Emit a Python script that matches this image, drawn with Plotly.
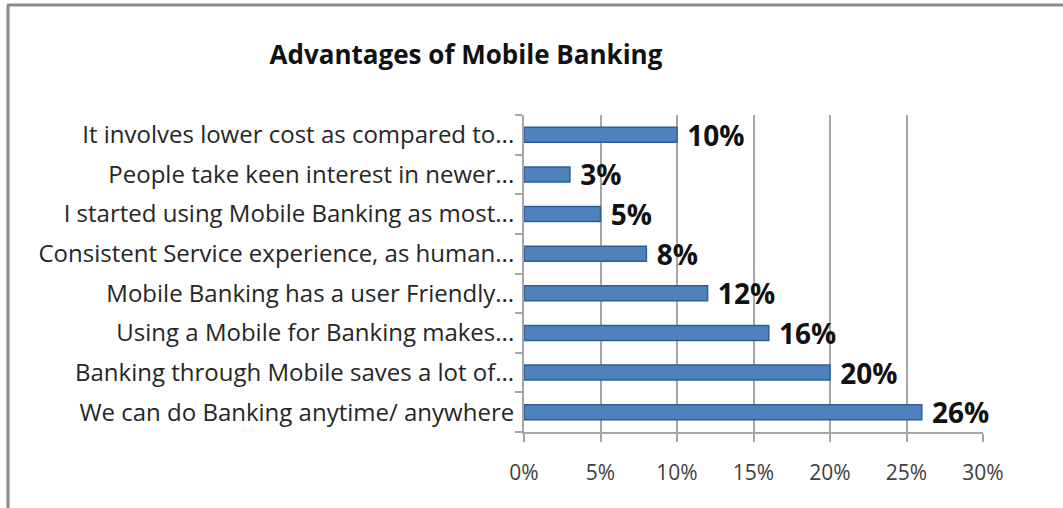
import plotly.graph_objects as go

categories = [
    "We can do Banking anytime/ anywhere",
    "Banking through Mobile saves a lot of...",
    "Using a Mobile for Banking makes...",
    "Mobile Banking has a user Friendly...",
    "Consistent Service experience, as human...",
    "I started using Mobile Banking as most...",
    "People take keen interest in newer...",
    "It involves lower cost as compared to...",
]
values = [26, 20, 16, 12, 8, 5, 3, 10]
tick_vals = [0, 5, 10, 15, 20, 25, 30]
tick_text = ["0%", "5%", "10%", "15%", "20%", "25%", "30%"]

W, H = 1063, 508
L, R, T, B = 524, 80, 115, 76
pw, ph = W - L - R, H - T - B
FONT = "Open Sans"

fig = go.Figure()
fig.add_trace(go.Bar(
    y=categories, x=values, orientation="h",
    marker=dict(color="#4F81BD", line=dict(color="#2F5F94", width=1.5)),
    width=0.38,
    text=[f" {v}%" for v in values], textposition="outside",
    constraintext="none",
    textfont=dict(family=FONT, size=28, color="#111111", weight="bold"),
    cliponaxis=False,
))

fig.update_layout(
    width=W, height=H,
    margin=dict(l=L, r=R, t=T, b=B),
    paper_bgcolor="white", plot_bgcolor="white",
    showlegend=False,
    title=dict(text="<b>Advantages of Mobile Banking</b>", x=466 / W, xanchor="center",
               y=1 - 55 / H, yanchor="middle",
               font=dict(family=FONT, size=26, color="#111111")),
    xaxis=dict(range=[0, 30], tickvals=tick_vals, ticktext=tick_text,
               showgrid=True, gridcolor="#A6A6A6", gridwidth=2,
               showline=True, linecolor="#A6A6A6", linewidth=2,
               ticks="outside", ticklen=8, tickcolor="#A6A6A6", tickwidth=2,
               ticklabelstandoff=13,
               tickfont=dict(family=FONT, size=21, color="#404040"),
               zeroline=False, fixedrange=True),
    yaxis=dict(categoryorder="array", categoryarray=categories,
               showline=True, linecolor="#A6A6A6", linewidth=2,
               ticks="outside", ticklen=7, tickcolor="#A6A6A6", tickwidth=2,
               tickson="boundaries", ticklabelstandoff=3,
               tickfont=dict(family=FONT, size=24, color="#262626"),
               fixedrange=True),
    bargap=0.6,
)

# outer chart frame (top and left border, as in the reference crop)
fig.add_shape(type="line", xref="paper", yref="paper",
              x0=(7 - L) / pw, x1=(W + 20 - L) / pw,
              y0=(H - B - 5) / ph, y1=(H - B - 5) / ph,
              line=dict(color="#8C8C8C", width=3))
fig.add_shape(type="line", xref="paper", yref="paper",
              x0=(8 - L) / pw, x1=(8 - L) / pw,
              y0=(H - B - 5) / ph, y1=(H - B - H - 20) / ph,
              line=dict(color="#8C8C8C", width=3))

fig.write_html("out.html", config={"displayModeBar": False},
               post_script="document.body.style.margin='0';document.body.style.overflow='hidden';")
